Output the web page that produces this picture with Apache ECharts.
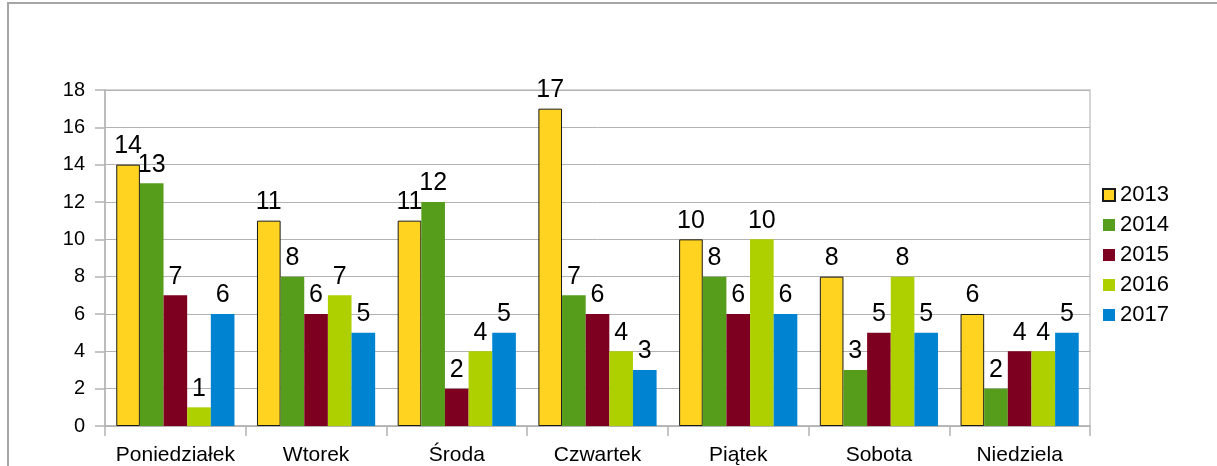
<!DOCTYPE html>
<html>
<head>
<meta charset="utf-8">
<script src="https://cdn.jsdelivr.net/npm/echarts@6/dist/echarts.min.js"></script>
<style>
  html, body { margin: 0; padding: 0; background: #fff; }
  #chart { width: 1217px; height: 466px; }
</style>
</head>
<body>
<div id="chart"></div>
<script>
  // dni tygodnia
  var days = ["Poniedziałek", "Wtorek", "Środa", "Czwartek", "Piątek", "Sobota", "Niedziela"];
  var years = ["2013", "2014", "2015", "2016", "2017"];
  var y2013 = [14, 11, 11, 17, 10, 8, 6];
  var y2014 = [13, 8, 12, 7, 8, 3, 2];
  var y2015 = [7, 6, 2, 6, 6, 5, 4];
  var y2016 = [1, 7, 4, 4, 10, 8, 4];
  var y2017 = [6, 5, 5, 3, 6, 5, 5];
  var yTicks = [0, 2, 4, 6, 8, 10, 12, 14, 16, 18];

  var colors = ["#ffd320", "#579d1c", "#7e0021", "#aecf00", "#0084d1"];
  var allData = [y2013, y2014, y2015, y2016, y2017];

  var chart = echarts.init(document.getElementById("chart"));

  var series = allData.map(function (d, i) {
    return {
      name: years[i],
      type: "bar",
      data: d,
      barGap: "0%",
      barCategoryGap: "16%",
      itemStyle: {
        color: colors[i],
        borderColor: i === 0 ? "#1a1a1a" : colors[i],
        borderWidth: i === 0 ? 1 : 0
      },
      label: {
        show: true,
        position: "top",
        distance: 6,
        color: "#000",
        fontSize: 25,
        fontFamily: "Liberation Sans"
      }
    };
  });

  var option = {
    animation: false,
    textStyle: { fontFamily: "Liberation Sans" },
    graphic: [{
      type: "rect",
      shape: { x: 8, y: 3, width: 1230, height: 480 },
      style: { fill: null, stroke: "#a6a6a6", lineWidth: 2 },
      silent: true
    }],
    legend: {
      orient: "vertical",
      left: 1097,
      top: 179,
      itemWidth: 12,
      itemHeight: 12,
      itemGap: 8,
      icon: "rect",
      data: years,
      textStyle: { color: "#000", fontSize: 22, fontFamily: "Liberation Sans" }
    },
    grid: {
      left: 105,
      right: 127,
      top: 90,
      bottom: 38.5,
      show: true,
      borderColor: "#c8c8c8",
      borderWidth: 1.5
    },
    xAxis: {
      type: "category",
      data: days,
      axisLine: { lineStyle: { color: "#b3b3b3", width: 1.5 } },
      axisTick: { show: true, interval: 0, length: 10, lineStyle: { color: "#b3b3b3", width: 1.5 } },
      axisLabel: { interval: 0, color: "#000", fontSize: 21, margin: 19, fontFamily: "Liberation Sans" }
    },
    yAxis: {
      type: "value",
      min: 0,
      max: 18,
      interval: 2,
      axisLine: { show: true, lineStyle: { color: "#b3b3b3", width: 1.5 } },
      axisTick: { show: true, length: 10, lineStyle: { color: "#b3b3b3", width: 1.5 } },
      splitLine: { lineStyle: { color: "#b3b3b3", width: 1 } },
      axisLabel: {
        color: "#000",
        fontSize: 20,
        margin: 20,
        fontFamily: "Liberation Sans",
        formatter: function (v) { return yTicks.indexOf(v) >= 0 ? String(v) : ""; }
      }
    },
    series: series
  };

  chart.setOption(option);
</script>
</body>
</html>
